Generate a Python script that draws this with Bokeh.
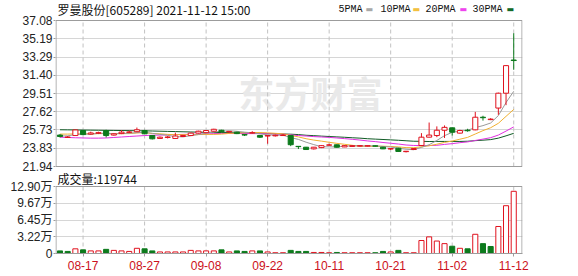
from bokeh.plotting import figure
from bokeh.models import Range1d, FixedTicker, Label, ColumnDataSource
from bokeh.embed import file_html
from bokeh.resources import INLINE

# ---------------- data ----------------
dates = ["08-12", "08-13", "08-16", "08-17", "08-18", "08-19", "08-20", "08-23", "08-24", "08-25",
         "08-26", "08-27", "08-30", "08-31", "09-01", "09-02", "09-03", "09-06", "09-07", "09-08",
         "09-09", "09-10", "09-13", "09-14", "09-15", "09-16", "09-17", "09-22", "09-23", "09-24",
         "09-27", "09-28", "09-29", "09-30", "10-08", "10-11", "10-12", "10-13", "10-14", "10-15",
         "10-18", "10-19", "10-20", "10-21", "10-22", "10-25", "10-26", "10-27", "10-28", "10-29",
         "11-01", "11-02", "11-03", "11-04", "11-05", "11-08", "11-09", "11-10", "11-11", "11-12"]

opens = [25.20, 24.95, 25.15, 25.67, 25.30, 25.38, 25.67, 25.20, 25.35, 25.48,
         25.55, 25.67, 25.15, 24.85, 24.95, 24.85, 25.05, 25.15, 25.40, 25.45,
         25.60, 25.70, 25.52, 25.50, 25.25, 25.40, 25.15, 25.10, 25.12, 25.15,
         25.15, 24.03, 23.94, 23.77, 23.90, 24.15, 24.19, 23.97, 24.02, 24.05,
         24.05, 24.08, 23.94, 23.75, 23.84, 23.48, 23.70, 24.12, 24.98, 25.15,
         25.70, 25.95, 25.40, 25.70, 25.74, 27.05, 26.80, 28.00, 29.54, 32.98]
highs = [25.30, 25.10, 25.76, 25.72, 25.55, 25.55, 25.75, 25.40, 25.70, 25.65,
         25.98, 25.75, 25.20, 25.05, 25.10, 25.45, 25.20, 25.45, 25.65, 25.70,
         25.85, 25.75, 25.62, 25.55, 25.30, 25.60, 25.20, 25.20, 25.25, 25.30,
         25.20, 24.05, 23.97, 23.97, 24.15, 24.30, 24.22, 24.15, 24.15, 24.15,
         24.12, 24.12, 23.97, 23.85, 23.88, 23.55, 23.85, 25.40, 26.50, 26.10,
         26.20, 25.98, 25.75, 25.85, 27.60, 27.20, 26.95, 29.60, 32.45, 35.76]
lows = [24.95, 24.90, 25.10, 25.20, 25.25, 25.30, 24.95, 25.15, 25.30, 25.40,
        25.50, 25.30, 24.75, 24.80, 24.85, 24.80, 25.00, 25.10, 25.35, 25.40,
        25.55, 25.45, 25.45, 25.30, 25.10, 25.35, 24.90, 24.30, 25.05, 25.10,
        24.05, 23.75, 23.65, 23.70, 23.85, 24.10, 23.90, 23.95, 24.00, 24.00,
        24.00, 24.00, 23.74, 23.65, 23.48, 23.40, 23.65, 24.05, 24.95, 24.98,
        24.90, 25.15, 25.35, 25.55, 25.70, 26.70, 26.75, 27.30, 28.30, 31.97]
closes = [25.05, 25.00, 25.73, 25.25, 25.42, 25.45, 25.15, 25.33, 25.50, 25.52,
          25.75, 25.33, 24.81, 24.98, 25.00, 25.10, 25.15, 25.40, 25.60, 25.67,
          25.80, 25.55, 25.58, 25.35, 25.20, 25.45, 24.98, 25.15, 25.18, 25.20,
          24.20, 24.00, 23.70, 23.94, 24.10, 24.18, 23.94, 24.10, 24.10, 24.10,
          24.10, 24.05, 23.77, 23.80, 23.50, 23.52, 23.80, 24.98, 25.20, 25.70,
          26.00, 25.50, 25.67, 25.65, 27.05, 27.00, 26.85, 29.54, 32.40, 32.93]
prev_close_first = 25.20

volumes = [5000, 4000, 9000, 7000, 5000, 5000, 8000, 6000, 5000, 4000,
           10000, 9000, 5000, 3000, 3000, 3000, 3000, 6000, 5000, 5000,
           5000, 7000, 3000, 5000, 4000, 5000, 5000, 3000, 1500, 1500,
           6000, 4000, 4000, 2000, 2000, 1500, 2000, 1500, 1500, 1500,
           1500, 1500, 4000, 3000, 6000, 1500, 1500, 25000, 32000, 24000,
           19000, 14000, 10000, 9000, 37000, 19000, 13500, 52000, 92000, 119744]

ma5 = [25.10, 25.12, 25.25, 25.30, 25.29, 25.37, 25.40, 25.32, 25.37, 25.39,
       25.45, 25.48, 25.38, 25.27, 25.17, 25.04, 25.01, 25.13, 25.25, 25.38,
       25.52, 25.60, 25.64, 25.59, 25.50, 25.43, 25.32, 25.23, 25.19, 25.19,
       24.94, 24.75, 24.46, 24.21, 23.99, 23.98, 23.97, 24.05, 24.08, 24.08,
       24.07, 24.09, 24.02, 23.96, 23.84, 23.73, 23.68, 23.92, 24.20, 24.64,
       25.14, 25.48, 25.61, 25.70, 25.97, 26.18, 26.45, 27.22, 28.57, 29.74]
ma10 = [25.30, 25.30, 25.32, 25.32, 25.33, 25.35, 25.35, 25.34, 25.35, 25.35,
        25.42, 25.45, 25.36, 25.33, 25.27, 25.24, 25.24, 25.24, 25.25, 25.27,
        25.27, 25.30, 25.37, 25.41, 25.44, 25.47, 25.46, 25.43, 25.38, 25.32,
        25.16, 25.01, 24.82, 24.68, 24.57, 24.45, 24.34, 24.24, 24.14, 24.04,
        24.03, 24.03, 24.04, 24.02, 23.97, 23.90, 23.89, 23.98, 24.09, 24.25,
        24.44, 24.58, 24.77, 24.96, 25.31, 25.66, 25.96, 26.42, 27.14, 27.86]
ma20 = [24.98, 24.95, 24.92, 24.90, 24.88, 24.88, 24.90, 24.95, 25.00, 25.05,
        25.10, 25.15, 25.18, 25.20, 25.22, 25.25, 25.27, 25.28, 25.30, 25.31,
        25.35, 25.37, 25.36, 25.37, 25.35, 25.35, 25.35, 25.34, 25.31, 25.30,
        25.22, 25.15, 25.10, 25.04, 25.00, 24.96, 24.90, 24.83, 24.76, 24.68,
        24.59, 24.52, 24.43, 24.35, 24.27, 24.17, 24.12, 24.11, 24.11, 24.14,
        24.23, 24.31, 24.41, 24.49, 24.64, 24.78, 24.93, 25.20, 25.61, 26.05]
ma30 = [25.75, 25.74, 25.73, 25.72, 25.71, 25.70, 25.69, 25.68, 25.67, 25.66,
        25.65, 25.64, 25.62, 25.60, 25.58, 25.56, 25.54, 25.52, 25.50, 25.49,
        25.48, 25.46, 25.45, 25.43, 25.41, 25.40, 25.38, 25.36, 25.34, 25.31,
        25.29, 25.25, 25.18, 25.14, 25.09, 25.05, 25.01, 24.97, 24.92, 24.88,
        24.82, 24.78, 24.74, 24.70, 24.66, 24.61, 24.56, 24.55, 24.53, 24.54,
        24.54, 24.54, 24.54, 24.56, 24.62, 24.67, 24.73, 24.88, 25.12, 25.38]

price_ticks = [21.94, 23.83, 25.73, 27.62, 29.51, 31.40, 33.29, 35.19, 37.08]
vol_ticks = [0, 32250, 64500, 96750, 129000]
vol_tick_labels = ["0", "3.22万", "6.45万", "9.67万", "12.90万"]
date_tick_labels = ["08-17", "08-27", "09-08", "09-22", "10-11", "10-21", "11-02", "11-12"]

ma_names = ["5PMA", "10PMA", "20PMA", "30PMA"]
chart_title = "罗曼股份[605289] 2021-11-12 15:00"

# ---------------- styles / layout constants ----------------
RED = "#e0121e"
GREEN = "#0c7a1c"
MA_COLORS = ["#9a9a9a", "#f0b030", "#e030e0", "#0f5a24"]
LEG_COLORS = ["#a8a8a8", "#f2c040", "#ee44ee", "#126a2a"]
GRID = "#d6d6d6"
VGRID = "#c2c2c2"
FRAME = "#9c9c9c"
TXT = "#222222"
SANS = "Liberation Sans, Noto Sans CJK SC"
CJK = "Noto Sans CJK SC"

n = len(dates)
xs = list(range(n))
W, H = 578, 276
FL, FR, FB = 55, 522, 253          # frame left / right / bottom (px); frame top = 0
X0, X1 = -0.585, 60.14
pxx = (X1 - X0) / (FR - FL)

# price panel: 37.08 at y=20, 21.94 at y=166 ; volume panel: max at y=186, 0 at y=253
P_LO, P_HI = price_ticks[0], price_ticks[-1]
pxy = (P_HI - P_LO) / 146.0
PY0 = P_LO - (FB - 166) * pxy
PY1 = P_HI + 20 * pxy
V_HI = float(vol_ticks[-1])
pvy = V_HI / 67.0
VY1 = FB * pvy


def xi(px):
    return X0 + (px - FL) * pxx


def yp(px):
    return P_HI - (px - 20) * pxy


def v2p(v):                              # volume value -> same screen height on price scale
    return PY0 + v / VY1 * (PY1 - PY0)


date_ticks = [dates.index(t) for t in date_tick_labels]

p = figure(width=W, height=H, output_backend="svg", toolbar_location=None, tools="",
           x_range=Range1d(X0, X1), y_range=Range1d(PY0, PY1),
           min_border_left=FL, min_border_right=W - FR, min_border_top=0, min_border_bottom=H - FB)
p.extra_y_ranges = {"vol": Range1d(0, VY1)}
p.background_fill_color = "white"
p.border_fill_color = "white"
p.outline_line_color = None
p.xgrid.visible = False

# left axis: price ticks for the top panel, volume ticks for the bottom panel
vol_tick_pos = [v2p(v) for v in vol_ticks]
all_ticks = vol_tick_pos + price_ticks
overrides = {t: s for t, s in zip(vol_tick_pos, vol_tick_labels)}
overrides.update({t: "%.2f" % t for t in price_ticks})
yax = p.yaxis[0]
yax.ticker = FixedTicker(ticks=all_ticks)
yax.major_label_overrides = overrides
yax.major_label_text_font = SANS
yax.major_label_text_font_size = "12px"
yax.major_label_text_color = TXT
yax.axis_line_color = None
yax.major_tick_line_color = FRAME
yax.major_tick_out = 2
yax.major_tick_in = 0
yax.minor_tick_line_color = None
yax.major_label_standoff = 1
p.ygrid.ticker = FixedTicker(ticks=all_ticks)
p.ygrid.grid_line_color = GRID

xax = p.xaxis[0]
xax.ticker = FixedTicker(ticks=date_ticks)
xax.major_label_overrides = {t: dates[t] for t in date_ticks}
xax.major_label_text_font = SANS
xax.major_label_text_font_size = "12px"
xax.major_label_text_color = "#cc1020"
xax.axis_line_color = FRAME
xax.major_tick_line_color = FRAME
xax.major_tick_out = 3
xax.major_tick_in = 0
xax.minor_tick_line_color = None
xax.major_label_standoff = 4

# watermark
p.add_layout(Label(x=xi(238), y=yp(91), text="东方财富", text_font=CJK, text_font_size="36px",
                   text_font_style="bold", text_color="#e9e9e9", text_baseline="middle",
                   level="underlay"))

# dashed date lines in both panels
k = len(date_ticks)
p.segment(x0=date_ticks, y0=[P_LO] * k, x1=date_ticks, y1=[P_HI] * k,
          line_color=VGRID, line_dash="4 3", line_width=1)
p.segment(x0=date_ticks, y0=[0] * k, x1=date_ticks, y1=[V_HI] * k, y_range_name="vol",
          line_color=VGRID, line_dash="4 3", line_width=1)

# panel frames
p.quad(left=xi(FL + 0.5), right=xi(FR - 0.5), bottom=P_LO, top=P_HI,
       fill_color=None, line_color=FRAME, line_width=1)
p.quad(left=xi(FL + 0.5), right=xi(FR - 0.5), bottom=0, top=V_HI, y_range_name="vol",
       fill_color=None, line_color=FRAME, line_width=1)

# moving averages
for vals, col in zip([ma30, ma20, ma10, ma5], MA_COLORS[::-1]):
    p.line(xs, vals, line_color=col, line_width=1)

# candles
up = [i for i in xs if closes[i] >= opens[i]]
dn = [i for i in xs if closes[i] < opens[i]]


def csrc(idx):
    return ColumnDataSource(dict(
        x=idx,
        hi=[highs[i] for i in idx], lo=[lows[i] for i in idx],
        top=[max(opens[i], closes[i]) for i in idx],
        bot=[min(opens[i], closes[i]) for i in idx]))


su, sd = csrc(up), csrc(dn)
p.segment(x0="x", y0="hi", x1="x", y1="lo", source=su, line_color=RED, line_width=1)
p.vbar(x="x", top="top", bottom="bot", width=0.66, source=su,
       fill_color="white", line_color=RED, line_width=1)
p.segment(x0="x", y0="hi", x1="x", y1="lo", source=sd, line_color=GREEN, line_width=1)
p.vbar(x="x", top="top", bottom="bot", width=0.66, source=sd,
       fill_color=GREEN, line_color=GREEN, line_width=1)

# volume bars (colour by close vs previous close)
prev = [prev_close_first] + closes[:-1]
vup = [i for i in xs if closes[i] >= prev[i]]
vdn = [i for i in xs if closes[i] < prev[i]]
p.vbar(x=vup, top=[volumes[i] for i in vup], bottom=0, width=0.66, y_range_name="vol",
       fill_color="white", line_color=RED, line_width=1)
p.vbar(x=vdn, top=[volumes[i] for i in vdn], bottom=0, width=0.66, y_range_name="vol",
       fill_color=GREEN, line_color=GREEN, line_width=1)

# header: title + MA key
p.add_layout(Label(x=xi(57), y=yp(9), text=chart_title, text_font=CJK,
                   text_font_size="12px", text_color="#111111", text_baseline="middle"))
leg_text_px = [338, 380, 425, 472]
leg_bar_px = [365, 412, 459, 506]
for name, tx, bx, col in zip(ma_names, leg_text_px, leg_bar_px, LEG_COLORS):
    p.add_layout(Label(x=xi(tx), y=yp(9), text=name, text_font="Liberation Mono",
                       text_font_size="10px", text_color="#111111", text_baseline="middle"))
    p.add_layout(Label(x=xi(bx), y=yp(9), text="▬", text_font="DejaVu Sans",
                       text_font_size="8px", text_color=col, text_baseline="middle"))

# volume panel title
p.add_layout(Label(x=xi(57), y=yp(178), text="成交量:%d" % volumes[-1], text_font=CJK,
                   text_font_size="12px", text_color="#111111", text_baseline="middle"))

open("out.html", "w").write(file_html(p, INLINE))
